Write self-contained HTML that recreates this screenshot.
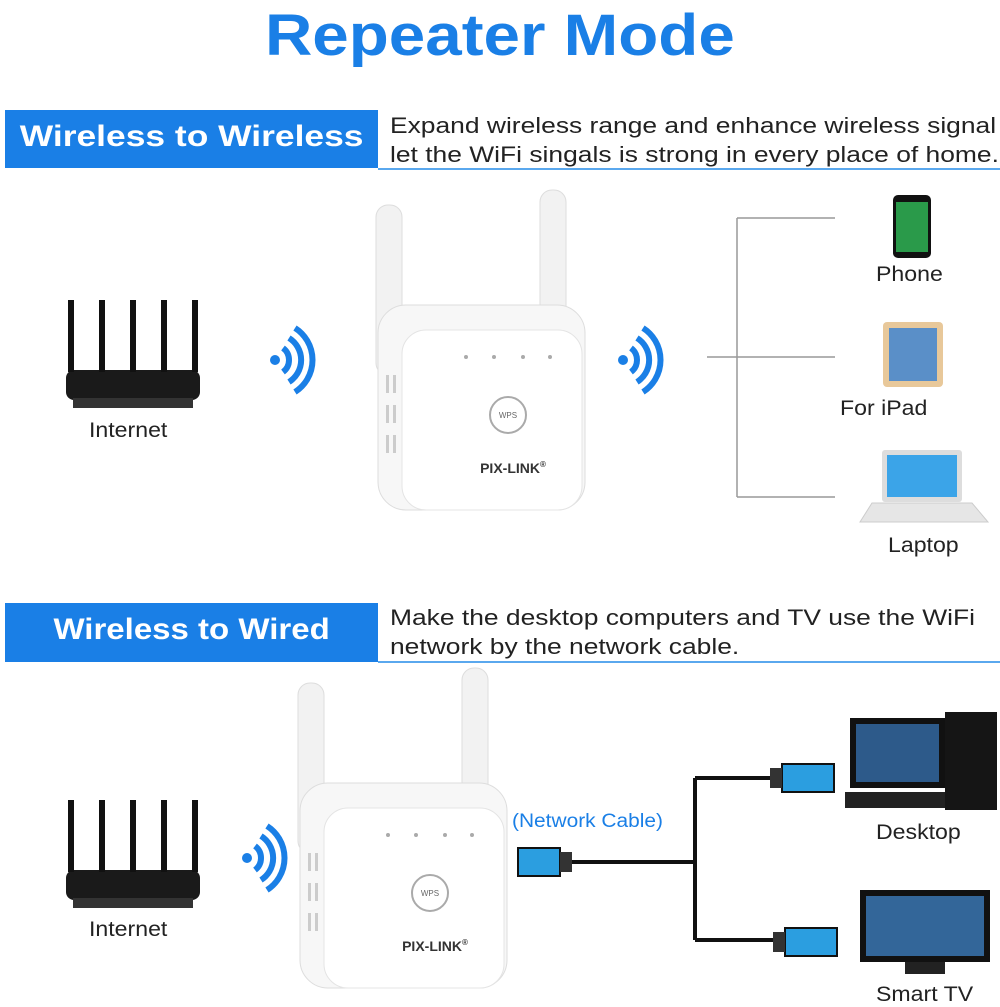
<!DOCTYPE html>
<html><head><meta charset="utf-8"><style>
body{margin:0;width:1000px;height:1000px;background:#fff;position:relative;overflow:hidden;font-family:"Liberation Sans",Arial,sans-serif}
.a{position:absolute}
.t{position:absolute;white-space:nowrap}
.w{transform-origin:0 0;transform:scaleX(1.2)}
.l{transform-origin:0 0;transform:scaleX(1.1)}
</style></head><body>
<div class="t" style="left:0;width:1000px;text-align:center;top:2px;font-size:58px;font-weight:bold;color:#1a7fe6"><span style="display:inline-block;transform:scaleX(1.13)">Repeater Mode</span></div>

<div class="a" style="left:5px;top:110px;width:373px;height:58px;background:#1a7fe6"></div>
<div class="t" style="left:5px;width:373px;text-align:center;top:120px;font-size:30px;font-weight:bold;color:#fff"><span style="display:inline-block;transform:scaleX(1.18)">Wireless to Wireless</span></div>
<div class="a" style="left:378px;top:168px;width:622px;height:2px;background:#5aa8ee"></div>
<div class="t w" style="left:390px;top:111px;font-size:22px;line-height:29px;color:#222">Expand wireless range and enhance wireless signal<br>let the WiFi singals is strong in every place of home.</div>

<div class="a" style="left:5px;top:603px;width:373px;height:59px;background:#1a7fe6"></div>
<div class="t" style="left:5px;width:373px;text-align:center;top:613px;font-size:30px;font-weight:bold;color:#fff"><span style="display:inline-block;transform:scaleX(1.1)">Wireless to Wired</span></div>
<div class="a" style="left:378px;top:661px;width:622px;height:2px;background:#5aa8ee"></div>
<div class="t w" style="left:390px;top:603px;font-size:22px;line-height:29px;color:#222">Make the desktop computers and TV use the WiFi<br>network by the network cable.</div>

<svg class="a" style="left:0;top:0" width="1000" height="1000">
<defs>
<g id="router">
<rect x="-67" y="20" width="134" height="30" rx="8" fill="#1a1a1a"/>
<rect x="-60" y="48" width="120" height="10" fill="#333"/>
<g fill="#111"><rect x="-65" y="-50" width="6" height="72"/><rect x="-34" y="-50" width="6" height="72"/><rect x="-3" y="-50" width="6" height="72"/><rect x="28" y="-50" width="6" height="72"/><rect x="59" y="-50" width="6" height="72"/></g>
</g>
<g id="wifi" fill="none" stroke="#1a7fe6" stroke-width="6">
<circle cx="0" cy="0" r="5" fill="#1a7fe6" stroke="none"/>
<path d="M8,-12 A15,15 0 0 1 8,12"/><path d="M14,-22 A26,26 0 0 1 14,22"/><path d="M20,-32 A38,38 0 0 1 20,32"/>
</g>
<g id="ext">
<rect x="-2" y="-100" width="26" height="170" rx="12" fill="#f2f2f2" stroke="#ddd"/>
<rect x="162" y="-115" width="26" height="160" rx="12" fill="#f2f2f2" stroke="#ddd"/>
<rect x="0" y="0" width="207" height="205" rx="28" fill="#f7f7f7" stroke="#ddd"/>
<rect x="24" y="25" width="180" height="180" rx="24" fill="#fff" stroke="#e4e4e4"/>
<g fill="#ccc"><rect x="8" y="70" width="3" height="18"/><rect x="15" y="70" width="3" height="18"/><rect x="8" y="100" width="3" height="18"/><rect x="15" y="100" width="3" height="18"/><rect x="8" y="130" width="3" height="18"/><rect x="15" y="130" width="3" height="18"/></g>
<g fill="#aaa"><circle cx="88" cy="52" r="2"/><circle cx="116" cy="52" r="2"/><circle cx="145" cy="52" r="2"/><circle cx="172" cy="52" r="2"/></g>
<circle cx="130" cy="110" r="18" fill="none" stroke="#aaa" stroke-width="2"/>
<text x="130" y="113" font-size="8" text-anchor="middle" fill="#666" font-family="Liberation Sans">WPS</text>
<text x="135" y="168" font-size="14" font-weight="bold" text-anchor="middle" fill="#333" font-family="Liberation Sans">PIX-LINK<tspan font-size="8" dy="-6">®</tspan></text>
</g>
</defs>
<use href="#router" x="133" y="350"/>
<use href="#router" x="133" y="850"/>
<use href="#wifi" x="275" y="360"/>
<use href="#wifi" x="623" y="360"/>
<use href="#wifi" x="247" y="858"/>
<use href="#ext" x="378" y="305"/>
<use href="#ext" x="300" y="783"/>
<g stroke="#999" stroke-width="1.5"><line x1="737" y1="218" x2="737" y2="497"/><line x1="737" y1="218" x2="835" y2="218"/><line x1="707" y1="357" x2="835" y2="357"/><line x1="737" y1="497" x2="835" y2="497"/></g>
<rect x="893" y="195" width="38" height="63" rx="5" fill="#111"/><rect x="896" y="202" width="32" height="50" fill="#2a9a4a"/>
<rect x="883" y="322" width="60" height="65" rx="4" fill="#e8c89a"/><rect x="889" y="328" width="48" height="53" fill="#5a8fc8"/>
<rect x="882" y="450" width="80" height="52" rx="3" fill="#ddd"/><rect x="887" y="455" width="70" height="42" fill="#3ba4e8"/><path d="M872,503 L972,503 L988,522 L860,522 Z" fill="#e6e6e6" stroke="#ccc"/>
<g stroke="#111" stroke-width="4" fill="none"><line x1="570" y1="862" x2="695" y2="862"/><line x1="695" y1="778" x2="695" y2="940"/><line x1="695" y1="778" x2="782" y2="778"/><line x1="695" y1="940" x2="785" y2="940"/></g>
<g fill="#2b9ee0" stroke="#111" stroke-width="2"><rect x="518" y="848" width="42" height="28"/><rect x="782" y="764" width="52" height="28"/><rect x="785" y="928" width="52" height="28"/></g>
<g fill="#333"><rect x="560" y="852" width="12" height="20"/><rect x="770" y="768" width="12" height="20"/><rect x="773" y="932" width="12" height="20"/></g>
<rect x="850" y="718" width="95" height="70" fill="#111"/><rect x="856" y="724" width="83" height="58" fill="#2d5a8a"/><rect x="945" y="712" width="52" height="98" fill="#151515"/><rect x="845" y="792" width="100" height="16" fill="#222"/>
<rect x="860" y="890" width="130" height="72" fill="#111"/><rect x="866" y="896" width="118" height="60" fill="#336699"/><rect x="905" y="962" width="40" height="12" fill="#222"/>
</svg>
<div class="t l" style="left:89px;top:419px;font-size:21px;color:#222">Internet</div>
<div class="t l" style="left:89px;top:918px;font-size:21px;color:#222">Internet</div>
<div class="t l" style="left:876px;top:263px;font-size:21px;color:#222">Phone</div>
<div class="t l" style="left:840px;top:397px;font-size:21px;color:#222">For iPad</div>
<div class="t l" style="left:888px;top:534px;font-size:21px;color:#222">Laptop</div>
<div class="t l" style="left:512px;top:811px;font-size:19px;color:#1a7fe6">(Network Cable)</div>
<div class="t l" style="left:876px;top:821px;font-size:21px;color:#222">Desktop</div>
<div class="t l" style="left:876px;top:983px;font-size:21px;color:#222">Smart TV</div>
</body></html>
